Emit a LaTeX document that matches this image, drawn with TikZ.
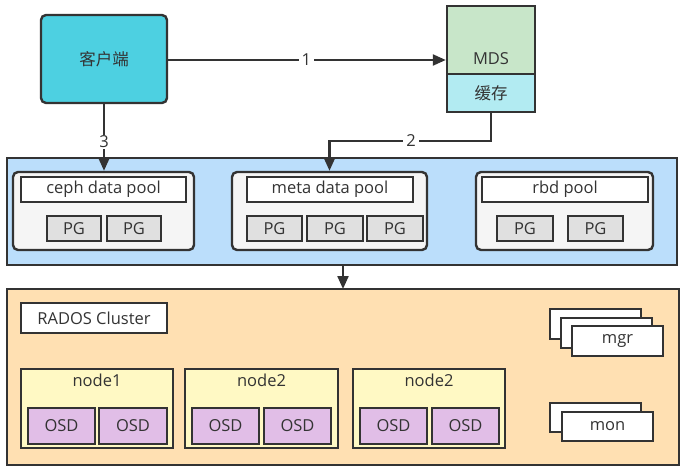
\documentclass[tikz,border=0pt]{standalone}
\usepackage{fontspec}
\setmainfont{Open Sans}
\newfontfamily\cjk{Noto Sans CJK SC}
\usetikzlibrary{arrows.meta}
\definecolor{ln}{HTML}{333333}
\definecolor{txt}{HTML}{333333}
\definecolor{clientc}{HTML}{4DD0E1}
\definecolor{mdsc}{HTML}{C8E6C9}
\definecolor{cachec}{HTML}{B2EBF2}
\definecolor{bluec}{HTML}{BBDEFB}
\definecolor{poolc}{HTML}{F5F5F5}
\definecolor{pgc}{HTML}{E0E0E0}
\definecolor{orangec}{HTML}{FFE0B2}
\definecolor{nodec}{HTML}{FFF9C4}
\definecolor{osdc}{HTML}{E1BEE7}
\newcommand\bnode[7]{\node[#1, minimum width={(#5-#3)*1pt}, minimum height={(#6-#4)*1pt}] (#2) at ({(#3+#5)/2},{(#4+#6)/2}) {#7};}
\begin{document}
\begin{tikzpicture}[x=1pt,y=-1pt,
  every node/.style={font=\fontsize{16.5}{20}\selectfont, text=txt, inner sep=0pt},
  box/.style={draw=ln, line width=2.4pt, rectangle},
  clientbox/.style={box, fill=clientc, rounded corners=5pt},
  mdsbox/.style={box, fill=mdsc},
  cachebox/.style={box, fill=cachec},
  bluebox/.style={box, fill=bluec},
  poolbox/.style={box, fill=poolc, rounded corners=5pt},
  titlebox/.style={box, fill=white},
  pgbox/.style={box, fill=pgc},
  orangebox/.style={box, fill=orangec},
  hostbox/.style={box, fill=nodec},
  osdbox/.style={box, fill=osdc},
  whitebox/.style={box, fill=white},
  arr/.style={draw=ln, line width=2.2pt, -{Triangle[length=13pt,width=11pt]}},
  lbl/.style={fill=white, inner xsep=3pt, inner ysep=1pt}
]
\useasboundingbox (0,0) rectangle (686,471);

% client
\bnode{clientbox}{client}{41}{15}{167}{103}{\cjk 客户端}
% MDS
\bnode{mdsbox}{mdstop}{447}{6}{535}{74}{}
\node (mdstext) at (491,59) {MDS};
\bnode{cachebox}{mdsbot}{447}{74}{535}{112}{\cjk 缓存}

% pools container
\bnode{bluebox}{blue}{7}{158}{677}{265}{}
\bnode{poolbox}{cephpool}{13}{172}{194}{250}{}
\bnode{titlebox}{cepht}{21}{177}{186}{202}{ceph data pool}
\bnode{pgbox}{cpg1}{47}{216}{101}{241}{PG}
\bnode{pgbox}{cpg2}{107}{216}{161}{241}{PG}

\bnode{poolbox}{metapool}{232}{172}{427}{250}{}
\bnode{titlebox}{metat}{247}{177}{413}{202}{meta data pool}
\bnode{pgbox}{mpg1}{247}{216}{302}{241}{PG}
\bnode{pgbox}{mpg2}{307}{216}{363}{241}{PG}
\bnode{pgbox}{mpg3}{367}{216}{423}{241}{PG}

\bnode{poolbox}{rbdpool}{476}{172}{653}{250}{}
\bnode{titlebox}{rbdt}{482}{177}{648}{202}{rbd pool}
\bnode{pgbox}{rpg1}{497}{216}{553}{241}{PG}
\bnode{pgbox}{rpg2}{568}{216}{623}{241}{PG}

% RADOS container
\bnode{orangebox}{orange}{7}{289}{679}{465}{}
\bnode{titlebox}{rados}{21}{303}{167}{333}{RADOS Cluster}

\bnode{hostbox}{host1}{21}{369}{173}{448}{}
\node (host1t) at (97,380) {node1};
\bnode{osdbox}{osd11}{28}{408}{95}{444}{OSD}
\bnode{osdbox}{osd12}{99}{408}{167}{444}{OSD}

\bnode{hostbox}{host2}{185}{369}{338}{448}{}
\node (host2t) at (261.5,380) {node2};
\bnode{osdbox}{osd21}{192}{408}{259}{444}{OSD}
\bnode{osdbox}{osd22}{264}{408}{331}{444}{OSD}

\bnode{hostbox}{host3}{353}{369}{505}{448}{}
\node (host3t) at (429,380) {node2};
\bnode{osdbox}{osd31}{360}{408}{427}{444}{OSD}
\bnode{osdbox}{osd32}{432}{408}{499}{444}{OSD}

% mgr stack
\bnode{whitebox}{mgr1}{550}{309}{641}{339}{}
\bnode{whitebox}{mgr2}{561}{318}{652}{348}{}
\bnode{whitebox}{mgr3}{572}{326}{663}{356}{mgr}
% mon stack
\bnode{whitebox}{mon1}{550}{403}{641}{432}{}
\bnode{whitebox}{mon2}{562}{412}{653}{441}{mon}

% connectors
\coordinate (c1) at (167,60);
\draw[arr] (c1) -- node[lbl, pos=0.5]{1} (c1 -| mdstop.west);
\draw[arr] (client.south) -- node[lbl, pos=0.565]{3} (client.south |- cephpool.north);
\coordinate (c2) at (491,141);
\draw[arr] (mdsbot.south) -- (c2) -- node[lbl, pos=0.495]{2} (c2 -| metapool.north) -- (metapool.north);
\draw[arr] (343,265) -- (343,289);
\end{tikzpicture}
\end{document}
